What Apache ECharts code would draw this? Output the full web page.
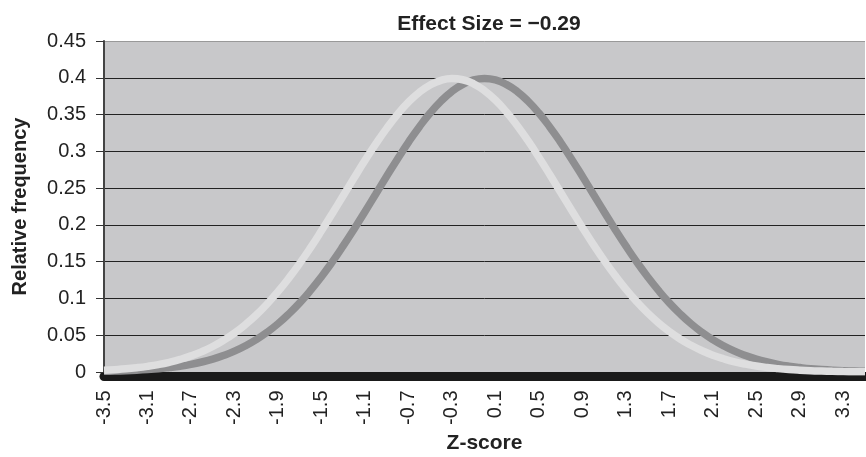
<!DOCTYPE html>
<html>
<head>
<meta charset="utf-8">
<script src="https://cdn.jsdelivr.net/npm/echarts@6/dist/echarts.min.js"></script>
<style>html,body{margin:0;padding:0;background:#fff}#c{width:866px;height:457px}</style>
</head>
<body>
<div id="c"></div>
<script>
var zScores = ['-3.5','-3.4','-3.3','-3.2','-3.1','-3','-2.9','-2.8','-2.7','-2.6','-2.5','-2.4','-2.3','-2.2','-2.1','-2','-1.9','-1.8','-1.7','-1.6','-1.5','-1.4','-1.3','-1.2','-1.1','-1','-0.9','-0.8','-0.7','-0.6','-0.5','-0.4','-0.3','-0.2','-0.1','0','0.1','0.2','0.3','0.4','0.5','0.6','0.7','0.8','0.9','1','1.1','1.2','1.3','1.4','1.5','1.6','1.7','1.8','1.9','2','2.1','2.2','2.3','2.4','2.5','2.6','2.7','2.8','2.9','3','3.1','3.2','3.3','3.4','3.5'];
var groupA = [0.0009,0.0012,0.0017,0.0024,0.0033,0.0044,0.0060,0.0079,0.0104,0.0136,0.0175,0.0224,0.0283,0.0355,0.0440,0.0540,0.0656,0.0790,0.0940,0.1109,0.1295,0.1497,0.1714,0.1942,0.2179,0.2420,0.2661,0.2897,0.3123,0.3332,0.3521,0.3683,0.3814,0.3910,0.3970,0.3989,0.3970,0.3910,0.3814,0.3683,0.3521,0.3332,0.3123,0.2897,0.2661,0.2420,0.2179,0.1942,0.1714,0.1497,0.1295,0.1109,0.0940,0.0790,0.0656,0.0540,0.0440,0.0355,0.0283,0.0224,0.0175,0.0136,0.0104,0.0079,0.0060,0.0044,0.0033,0.0024,0.0017,0.0012,0.0009];
var groupB = [0.0023,0.0032,0.0043,0.0058,0.0077,0.0101,0.0132,0.0171,0.0219,0.0277,0.0347,0.0431,0.0529,0.0644,0.0775,0.0925,0.1092,0.1276,0.1476,0.1691,0.1919,0.2155,0.2396,0.2637,0.2874,0.3101,0.3312,0.3503,0.3668,0.3802,0.3902,0.3965,0.3989,0.3973,0.3918,0.3825,0.3697,0.3538,0.3352,0.3144,0.2920,0.2685,0.2444,0.2203,0.1965,0.1736,0.1518,0.1315,0.1127,0.0957,0.0804,0.0669,0.0551,0.0449,0.0363,0.0290,0.0229,0.0180,0.0139,0.0107,0.0081,0.0061,0.0046,0.0034,0.0025,0.0018,0.0013,0.0009,0.0006,0.0004,0.0003];
var titleText = 'Effect Size = \u22120.29';
var xName = 'Z-score';
var yName = 'Relative frequency';

var font = '"Liberation Sans", Arial, sans-serif';
var chart = echarts.init(document.getElementById('c'), null, {renderer: 'canvas'});
chart.setOption({
  animation: false,
  title: {
    text: titleText, left: 484, top: 9, textAlign: 'center',
    textStyle: {fontFamily: font, fontSize: 21, fontWeight: 'bold', color: '#222'}
  },
  grid: {left: 104, right: 1, top: 41, bottom: 85, show: true, backgroundColor: '#c8c8ca', borderWidth: 0, outerBoundsMode: 'none', containLabel: false},
  xAxis: {
    type: 'category', data: zScores, boundaryGap: false, offset: 4.5,
    name: xName, nameLocation: 'middle', nameGap: 56,
    nameTextStyle: {fontFamily: font, fontSize: 21, fontWeight: 'bold', color: '#222'},
    axisLine: {onZero: false, lineStyle: {color: '#1a1a1a', width: 9}},
    axisTick: {show: false},
    axisLabel: {interval: 3, rotate: 90, margin: 14, fontFamily: font, fontSize: 20, color: '#222'},
    splitLine: {show: false}
  },
  yAxis: {
    type: 'value', min: 0, max: 0.45, interval: 0.05,
    name: yName, nameLocation: 'middle', nameGap: 74,
    nameTextStyle: {fontFamily: font, fontSize: 20, fontWeight: 'bold', color: '#222'},
    axisLine: {show: true, lineStyle: {color: '#444', width: 2}},
    axisTick: {show: true, length: 8, lineStyle: {color: '#333'}},
    axisLabel: {margin: 18, fontFamily: font, fontSize: 20, color: '#222',
      formatter: function (v) { return String(Math.round(v * 100) / 100); }},
    splitLine: {lineStyle: {color: ['#222','#222','#222','#222','#222','#222','#222','#222','#222','#999'], width: 1}}
  },
  series: [
    {type: 'line', data: groupA, symbol: 'none', smooth: true, lineStyle: {color: '#8e8e90', width: 7.5}, z: 3},
    {type: 'line', data: groupB, symbol: 'none', smooth: true, lineStyle: {color: '#dededf', width: 7.5}, z: 4}
  ]
});
</script>
</body>
</html>
